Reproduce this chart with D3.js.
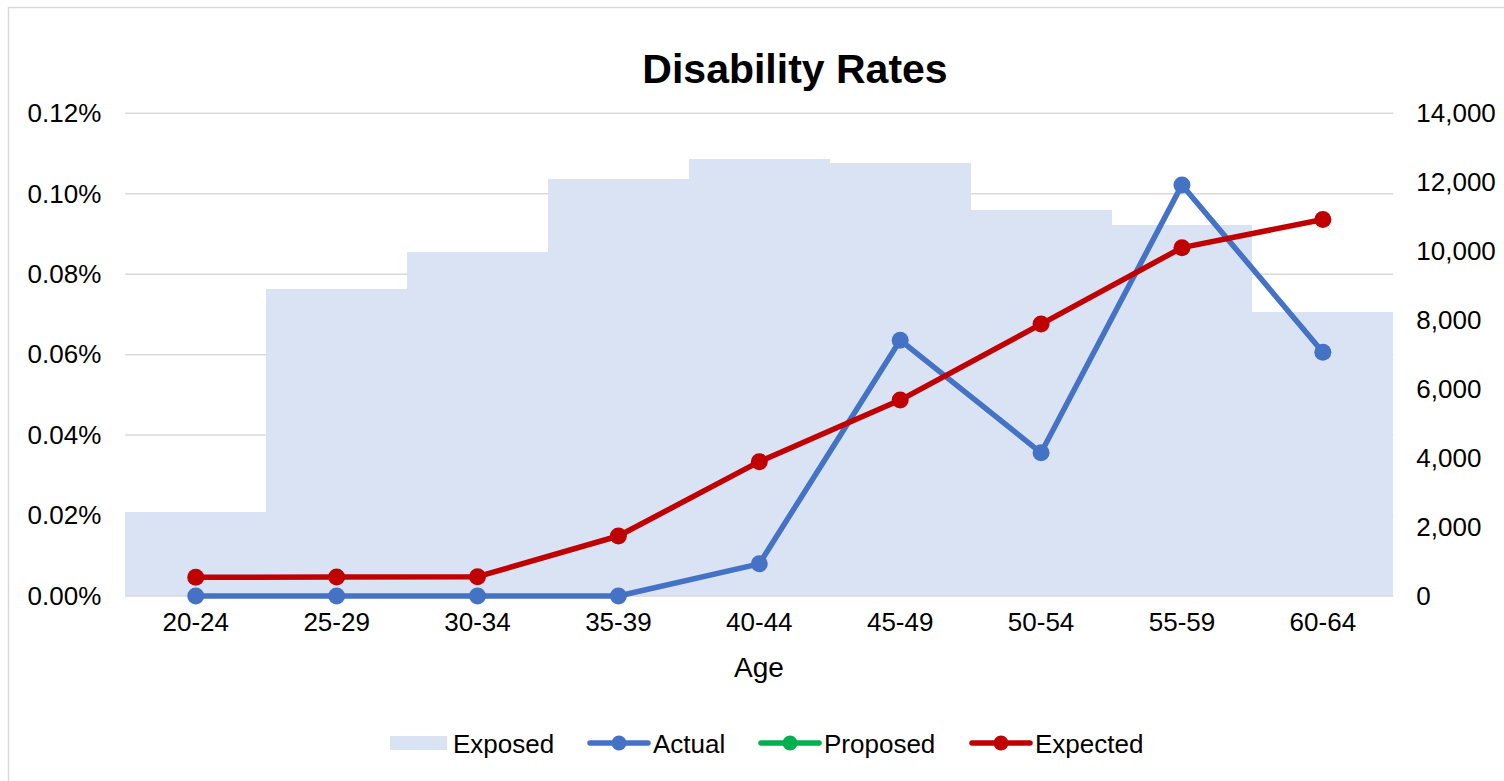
<!DOCTYPE html>
<html>
<head>
<meta charset="utf-8">
<script src="https://cdn.jsdelivr.net/npm/d3@7"></script>
<style>
  html, body { margin: 0; padding: 0; background: #fff; }
  svg { display: block; }
  text { font-family: "Liberation Sans", Arial, sans-serif; fill: #000; }
</style>
</head>
<body>
<svg id="chart" width="1504" height="781"></svg>
<script>
// Age bands
const ageBands = ["20-24", "25-29", "30-34", "35-39", "40-44", "45-49", "50-54", "55-59", "60-64"];
// Exposure counts (right axis)
const exposed = [2430, 8900, 9990, 12100, 12675, 12560, 11195, 10760, 8245];
// Disability rates in percent (left axis)
const actual = [0, 0, 0, 0, 0.0080, 0.0636, 0.0356, 0.1022, 0.0606];
const proposed = [null, null, null, null, null, null, null, null, null];
const expected = [0.00465, 0.0047, 0.0048, 0.01492, 0.0334, 0.0487, 0.0676, 0.0866, 0.0936];
// Axis ticks
const rateTicks = [0, 0.02, 0.04, 0.06, 0.08, 0.10, 0.12];
const countTicks = [0, 2000, 4000, 6000, 8000, 10000, 12000, 14000];
// Legend entries
const legendItems = [
  { name: "Exposed", kind: "bar", color: "#DAE3F3" },
  { name: "Actual", kind: "line", color: "#4472C4" },
  { name: "Proposed", kind: "line", color: "#00B050" },
  { name: "Expected", kind: "line", color: "#C00000" }
];

const svg = d3.select("#chart");
const plot = { left: 125.3, right: 1393.3, top: 113.3, bottom: 596 };

// Chart area outline
svg.append("rect")
  .attr("x", 8.5).attr("y", 7.5)
  .attr("width", 1520).attr("height", 800)
  .attr("fill", "#fff")
  .attr("stroke", "#d9d9d9").attr("stroke-width", 1.5);

const x = d3.scaleBand().domain(ageBands).range([plot.left, plot.right]).paddingInner(0).paddingOuter(0);
const yRate = d3.scaleLinear().domain([0, 0.12]).range([plot.bottom, plot.top]);
const yCount = d3.scaleLinear().domain([0, 14000]).range([plot.bottom, plot.top]);

// Gridlines
svg.append("g").selectAll("line").data(rateTicks.slice(1)).join("line")
  .attr("x1", plot.left).attr("x2", plot.right)
  .attr("y1", d => yRate(d)).attr("y2", d => yRate(d))
  .attr("stroke", "#d9d9d9").attr("stroke-width", 1.5);

// Exposure bars
svg.append("g").selectAll("rect").data(exposed).join("rect")
  .attr("x", (d, i) => x(ageBands[i]))
  .attr("width", x.bandwidth())
  .attr("y", d => yCount(d))
  .attr("height", d => plot.bottom - yCount(d))
  .attr("fill", "#DAE3F3")
  .attr("shape-rendering", "crispEdges");

// Baseline
svg.append("line")
  .attr("x1", plot.left).attr("x2", plot.right)
  .attr("y1", plot.bottom).attr("y2", plot.bottom)
  .attr("stroke", "#d9d9d9").attr("stroke-width", 1.5);

// Left axis (rates)
const leftAxis = svg.append("g")
  .attr("transform", `translate(${plot.left},0)`)
  .call(d3.axisLeft(yRate).tickValues(rateTicks).tickSize(0).tickPadding(24)
    .tickFormat(d => d3.format(".2f")(d) + "%"));
leftAxis.select(".domain").remove();
leftAxis.selectAll("text").attr("font-size", 26).attr("fill", "#000");

// Right axis (counts)
const rightAxis = svg.append("g")
  .attr("transform", `translate(${plot.right},0)`)
  .call(d3.axisRight(yCount).tickValues(countTicks).tickSize(0).tickPadding(23)
    .tickFormat(d3.format(",")));
rightAxis.select(".domain").remove();
rightAxis.selectAll("text").attr("font-size", 26).attr("fill", "#000");

// Bottom axis (age bands)
const bottomAxis = svg.append("g")
  .attr("transform", `translate(0,${plot.bottom})`)
  .call(d3.axisBottom(x).tickSize(0).tickPadding(17));
bottomAxis.select(".domain").remove();
bottomAxis.selectAll("text").attr("font-size", 26).attr("fill", "#000");

// Rate lines
function drawSeries(values, color) {
  const pts = values.map((v, i) => ({ band: ageBands[i], v })).filter(p => p.v !== null);
  if (!pts.length) return;
  const line = d3.line()
    .x(p => x(p.band) + x.bandwidth() / 2)
    .y(p => yRate(p.v));
  const g = svg.append("g");
  g.append("path").datum(pts)
    .attr("d", line)
    .attr("fill", "none")
    .attr("stroke", color)
    .attr("stroke-width", 5.5)
    .attr("stroke-linejoin", "round")
    .attr("stroke-linecap", "round");
  g.selectAll("circle").data(pts).join("circle")
    .attr("cx", p => x(p.band) + x.bandwidth() / 2)
    .attr("cy", p => yRate(p.v))
    .attr("r", 8.5)
    .attr("fill", color);
}
drawSeries(actual, "#4472C4");
drawSeries(proposed, "#00B050");
drawSeries(expected, "#C00000");

// Title
svg.append("text")
  .attr("x", 795).attr("y", 83)
  .attr("text-anchor", "middle")
  .attr("font-size", 41).attr("font-weight", "bold")
  .text("Disability Rates");

// Axis title
svg.append("text")
  .attr("x", 759).attr("y", 677)
  .attr("text-anchor", "middle")
  .attr("font-size", 28)
  .text("Age");

// Legend
const legendX = [390, 588, 759, 970];
const legend = svg.append("g");
legendItems.forEach((item, i) => {
  const g = legend.append("g").attr("transform", `translate(${legendX[i]},743)`);
  if (item.kind === "bar") {
    g.append("rect").attr("x", 0).attr("y", -7).attr("width", 57).attr("height", 14).attr("fill", item.color);
    g.append("text").attr("x", 63).attr("y", 9.5).attr("font-size", 26).text(item.name);
  } else {
    g.append("line").attr("x1", 2).attr("x2", 60).attr("y1", 0).attr("y2", 0)
      .attr("stroke", item.color).attr("stroke-width", 5.5).attr("stroke-linecap", "round");
    g.append("circle").attr("cx", 31).attr("cy", 0).attr("r", 7.5).attr("fill", item.color);
    g.append("text").attr("x", 65).attr("y", 9.5).attr("font-size", 26).text(item.name);
  }
});
</script>
</body>
</html>
